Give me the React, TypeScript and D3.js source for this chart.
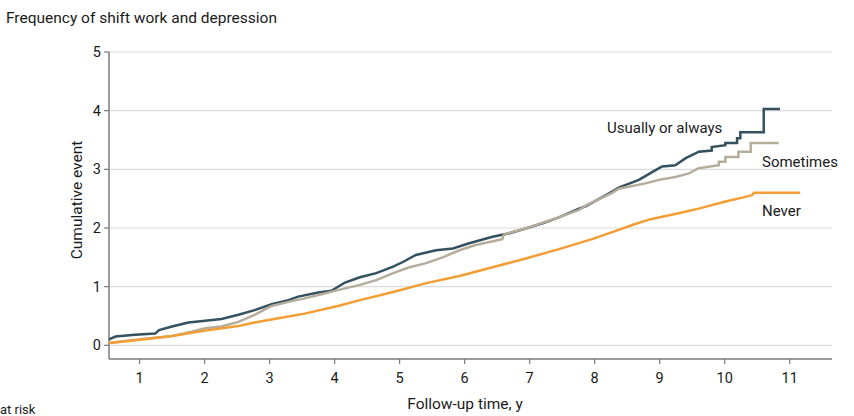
import React from "react";
import * as d3 from "d3";

const title = "Frequency of shift work and depression";
const xLabel = "Follow-up time, y";
const yLabel = "Cumulative event";
const atRisk = "at risk";
const xTicks = [1, 2, 3, 4, 5, 6, 7, 8, 9, 10, 11];
const yTicks = [0, 1, 2, 3, 4, 5];

const usuallyT = [0.53, 0.63, 0.93, 1.24, 1.3, 1.5, 1.75, 2.01, 2.26, 2.52, 2.77, 3.03, 3.29, 3.44, 3.75, 3.95, 4.16, 4.39, 4.64, 4.9, 5.05, 5.25, 5.56, 5.82, 6.07, 6.43, 6.69, 6.94, 7.2, 7.45, 7.76, 7.86, 8.27, 8.37, 8.68, 8.99, 9.04, 9.24, 9.4, 9.55, 9.6, 9.8, 9.8, 10.01, 10.01, 10.19, 10.19, 10.24, 10.24, 10.6, 10.6, 10.85];
const usuallyV = [0.1, 0.15, 0.18, 0.2, 0.26, 0.32, 0.39, 0.42, 0.45, 0.52, 0.6, 0.7, 0.77, 0.83, 0.9, 0.93, 1.07, 1.16, 1.23, 1.34, 1.42, 1.54, 1.62, 1.65, 1.74, 1.85, 1.91, 1.99, 2.08, 2.18, 2.33, 2.37, 2.62, 2.69, 2.82, 3.02, 3.05, 3.07, 3.19, 3.27, 3.3, 3.32, 3.38, 3.41, 3.45, 3.45, 3.53, 3.53, 3.63, 3.63, 4.03, 4.03];

const sometimesT = [0.53, 0.98, 1.5, 1.8, 2.01, 2.26, 2.52, 2.77, 3.03, 3.29, 3.54, 3.8, 4.05, 4.39, 4.64, 4.9, 5.15, 5.41, 5.66, 5.92, 6.17, 6.58, 6.6, 6.69, 6.94, 7.2, 7.45, 7.76, 7.86, 8.27, 8.37, 8.78, 8.99, 9.24, 9.45, 9.6, 9.91, 9.91, 10.01, 10.01, 10.21, 10.21, 10.4, 10.4, 10.83];
const sometimesV = [0.04, 0.1, 0.16, 0.23, 0.29, 0.32, 0.4, 0.52, 0.67, 0.74, 0.8, 0.87, 0.94, 1.03, 1.11, 1.23, 1.33, 1.4, 1.5, 1.62, 1.71, 1.81, 1.88, 1.92, 1.99, 2.09, 2.18, 2.31, 2.38, 2.6, 2.67, 2.76, 2.82, 2.87, 2.93, 3.02, 3.07, 3.13, 3.13, 3.21, 3.21, 3.3, 3.3, 3.45, 3.45];

const neverT = [0.53, 0.98, 1.5, 2.01, 2.52, 2.77, 3.03, 3.54, 4.05, 4.39, 4.9, 5.41, 5.92, 6.43, 6.94, 7.45, 7.96, 8.27, 8.6, 8.86, 9.29, 9.6, 10.01, 10.32, 10.42, 10.45, 11.16];
const neverV = [0.04, 0.09, 0.16, 0.25, 0.33, 0.39, 0.44, 0.54, 0.67, 0.77, 0.91, 1.06, 1.18, 1.33, 1.48, 1.64, 1.81, 1.93, 2.06, 2.15, 2.25, 2.33, 2.45, 2.53, 2.56, 2.6, 2.6];

const seriesNames = ["Usually or always", "Sometimes", "Never"];
const seriesColors = ["#33515e", "#b6ac9b", "#f39d33"];

const W = 854;
const H = 416;
const FONT = "Roboto, 'Open Sans', sans-serif";

export default function App() {
  const x = d3.scaleLinear().domain([0.53, 11.65]).range([109, 832]);
  const y = d3.scaleLinear().domain([0, 5]).range([345.3, 52]);
  const axisY = 359;

  const line = d3
    .line<[number, number]>()
    .x((d) => x(d[0]))
    .y((d) => y(d[1]))
    .curve(d3.curveLinear);

  const series = [
    { name: seriesNames[0], color: seriesColors[0], pts: usuallyT.map((t, i) => [t, usuallyV[i]] as [number, number]) },
    { name: seriesNames[1], color: seriesColors[1], pts: sometimesT.map((t, i) => [t, sometimesV[i]] as [number, number]) },
    { name: seriesNames[2], color: seriesColors[2], pts: neverT.map((t, i) => [t, neverV[i]] as [number, number]) },
  ];

  const labelPos = [
    { x: 607, y: 133 },
    { x: 762, y: 167 },
    { x: 762, y: 216 },
  ];

  return (
    <svg width={W} height={H} style={{ position: "absolute", left: 0, top: 0, background: "#fff" }} fontFamily={FONT}>
      <text x={6} y={23} fontSize={15.5} fill="#1a1a1a">{title}</text>

      {yTicks.map((v) => (
        <line key={"g" + v} x1={109} x2={832} y1={y(v)} y2={y(v)} stroke="#dcdcdc" strokeWidth={1.2} />
      ))}

      <line x1={109} x2={109} y1={y(5)} y2={axisY} stroke="#7a7a7a" strokeWidth={1.5} />
      {yTicks.map((v) => (
        <g key={"yt" + v}>
          <line x1={104} x2={109} y1={y(v)} y2={y(v)} stroke="#7a7a7a" strokeWidth={1.2} />
          <text x={101} y={y(v)} dy="0.35em" textAnchor="end" fontSize={14.5} fill="#1a1a1a">{v}</text>
        </g>
      ))}

      <line x1={109} x2={832} y1={axisY} y2={axisY} stroke="#7a7a7a" strokeWidth={1.5} />
      {xTicks.map((t) => (
        <g key={"xt" + t}>
          <line x1={x(t)} x2={x(t)} y1={axisY} y2={axisY + 5} stroke="#7a7a7a" strokeWidth={1.2} />
          <text x={x(t)} y={383} textAnchor="middle" fontSize={14.5} fill="#1a1a1a">{t}</text>
        </g>
      ))}

      <text x={465} y={409} textAnchor="middle" fontSize={15.5} fill="#1a1a1a">{xLabel}</text>
      <text transform={`translate(82,200) rotate(-90)`} textAnchor="middle" fontSize={15.5} fill="#1a1a1a">{yLabel}</text>
      <text x={0} y={414} fontSize={13} fill="#1a1a1a">{atRisk}</text>

      {series.map((s) => (
        <path key={s.name} d={line(s.pts) || ""} fill="none" stroke={s.color} strokeWidth={2.5} strokeLinejoin="miter" />
      ))}

      {series.map((s, i) => (
        <text key={"l" + s.name} x={labelPos[i].x} y={labelPos[i].y} fontSize={15} fill="#1a1a1a">{s.name}</text>
      ))}
    </svg>
  );
}
